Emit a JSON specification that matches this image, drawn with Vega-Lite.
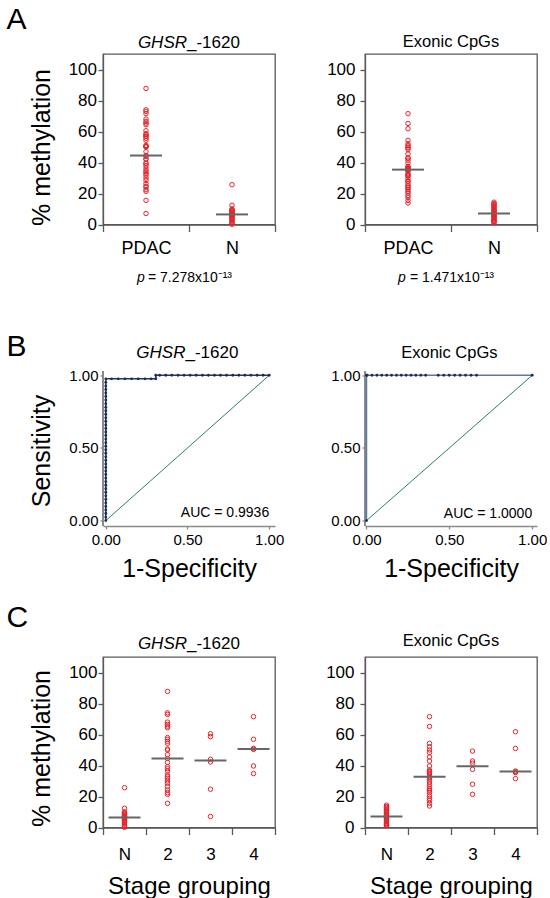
{
"$schema":"https://vega.github.io/schema/vega-lite/v6.json",
"autosize":{"type":"pad"},
"padding":{"left":5,"top":4,"right":0,"bottom":0},
"background":"white",
"columns":2,
"bounds":"flush",
"align":"all",
"spacing":{"row":130.5,"column":90},
"config":{
 "font":"Liberation Sans",
 "view":{"stroke":"#595959","strokeWidth":1.3},
 "axis":{"grid":false,"labelColor":"#000","titleColor":"#000","titleFontWeight":"normal","labelFont":"Liberation Sans","titleFont":"Liberation Sans","domainColor":"#595959","tickColor":"#595959","domainWidth":1.3,"tickWidth":1.3,"labelFlush":false,"labelOverlap":false},
 "title":{"fontWeight":"normal","color":"#000","fontSize":30,"anchor":"start","frame":"group","dx":-96.5,"font":"Liberation Sans"}
},
"datasets":{
 "meth":[
{"g":"G","s":"2","t":"PDAC","v":87.8},{"g":"G","s":"2","t":"PDAC","v":74},{"g":"G","s":"2","t":"PDAC","v":73},{"g":"G","s":"2","t":"PDAC","v":68},{"g":"G","s":"2","t":"PDAC","v":66.5},{"g":"G","s":"2","t":"PDAC","v":65.4},{"g":"G","s":"2","t":"PDAC","v":64.4},{"g":"G","s":"2","t":"PDAC","v":58},{"g":"G","s":"2","t":"PDAC","v":56.9},{"g":"G","s":"2","t":"PDAC","v":55.6},{"g":"G","s":"2","t":"PDAC","v":54.3},{"g":"G","s":"2","t":"PDAC","v":50.6},{"g":"G","s":"2","t":"PDAC","v":50},{"g":"G","s":"2","t":"PDAC","v":47},{"g":"G","s":"2","t":"PDAC","v":44.5},{"g":"G","s":"2","t":"PDAC","v":42},{"g":"G","s":"2","t":"PDAC","v":39.3},{"g":"G","s":"2","t":"PDAC","v":38},{"g":"G","s":"2","t":"PDAC","v":36.4},{"g":"G","s":"2","t":"PDAC","v":33.9},{"g":"G","s":"2","t":"PDAC","v":32.8},{"g":"G","s":"2","t":"PDAC","v":31.7},{"g":"G","s":"2","t":"PDAC","v":30},{"g":"G","s":"2","t":"PDAC","v":28.5},{"g":"G","s":"2","t":"PDAC","v":26.4},{"g":"G","s":"2","t":"PDAC","v":24.2},{"g":"G","s":"2","t":"PDAC","v":22.5},{"g":"G","s":"2","t":"PDAC","v":21.4},{"g":"G","s":"2","t":"PDAC","v":15.6},
{"g":"G","s":"3","t":"PDAC","v":60.5},{"g":"G","s":"3","t":"PDAC","v":58.6},{"g":"G","s":"3","t":"PDAC","v":44},{"g":"G","s":"3","t":"PDAC","v":42.3},{"g":"G","s":"3","t":"PDAC","v":24.7},{"g":"G","s":"3","t":"PDAC","v":7.1},
{"g":"G","s":"4","t":"PDAC","v":71.5},{"g":"G","s":"4","t":"PDAC","v":56.9},{"g":"G","s":"4","t":"PDAC","v":51},{"g":"G","s":"4","t":"PDAC","v":50.4},{"g":"G","s":"4","t":"PDAC","v":39.7},{"g":"G","s":"4","t":"PDAC","v":34.8},
{"g":"G","s":"N","t":"N","v":25.7},{"g":"G","s":"N","t":"N","v":12.4},{"g":"G","s":"N","t":"N","v":10},{"g":"G","s":"N","t":"N","v":9.6},{"g":"G","s":"N","t":"N","v":9},{"g":"G","s":"N","t":"N","v":8.5},{"g":"G","s":"N","t":"N","v":8},{"g":"G","s":"N","t":"N","v":7.6},{"g":"G","s":"N","t":"N","v":7.3},{"g":"G","s":"N","t":"N","v":7},{"g":"G","s":"N","t":"N","v":6.8},{"g":"G","s":"N","t":"N","v":6.5},{"g":"G","s":"N","t":"N","v":6},{"g":"G","s":"N","t":"N","v":5.5},{"g":"G","s":"N","t":"N","v":5},{"g":"G","s":"N","t":"N","v":4.7},{"g":"G","s":"N","t":"N","v":4},{"g":"G","s":"N","t":"N","v":3.4},{"g":"G","s":"N","t":"N","v":2.8},{"g":"G","s":"N","t":"N","v":2.1},{"g":"G","s":"N","t":"N","v":1.2},{"g":"G","s":"N","t":"N","v":0.5},{"g":"G","s":"N","t":"N","v":0.2},
{"g":"E","s":"2","t":"PDAC","v":71.5},{"g":"E","s":"2","t":"PDAC","v":65.2},{"g":"E","s":"2","t":"PDAC","v":54.3},{"g":"E","s":"2","t":"PDAC","v":52.1},{"g":"E","s":"2","t":"PDAC","v":50},{"g":"E","s":"2","t":"PDAC","v":48.3},{"g":"E","s":"2","t":"PDAC","v":45.5},{"g":"E","s":"2","t":"PDAC","v":42.9},{"g":"E","s":"2","t":"PDAC","v":39.7},{"g":"E","s":"2","t":"PDAC","v":37.1},{"g":"E","s":"2","t":"PDAC","v":36.2},{"g":"E","s":"2","t":"PDAC","v":35.8},{"g":"E","s":"2","t":"PDAC","v":35},{"g":"E","s":"2","t":"PDAC","v":34.5},{"g":"E","s":"2","t":"PDAC","v":32.8},{"g":"E","s":"2","t":"PDAC","v":32},{"g":"E","s":"2","t":"PDAC","v":31.1},{"g":"E","s":"2","t":"PDAC","v":29.4},{"g":"E","s":"2","t":"PDAC","v":27.9},{"g":"E","s":"2","t":"PDAC","v":26.4},{"g":"E","s":"2","t":"PDAC","v":25.1},{"g":"E","s":"2","t":"PDAC","v":24.2},{"g":"E","s":"2","t":"PDAC","v":23.6},{"g":"E","s":"2","t":"PDAC","v":22.5},{"g":"E","s":"2","t":"PDAC","v":20.3},{"g":"E","s":"2","t":"PDAC","v":18.7},{"g":"E","s":"2","t":"PDAC","v":17.5},{"g":"E","s":"2","t":"PDAC","v":15.6},{"g":"E","s":"2","t":"PDAC","v":13.9},
{"g":"E","s":"3","t":"PDAC","v":49.3},{"g":"E","s":"3","t":"PDAC","v":42.9},{"g":"E","s":"3","t":"PDAC","v":41.5},{"g":"E","s":"3","t":"PDAC","v":37.5},{"g":"E","s":"3","t":"PDAC","v":27.9},{"g":"E","s":"3","t":"PDAC","v":21.4},
{"g":"E","s":"4","t":"PDAC","v":61.8},{"g":"E","s":"4","t":"PDAC","v":51},{"g":"E","s":"4","t":"PDAC","v":36.4},{"g":"E","s":"4","t":"PDAC","v":36},{"g":"E","s":"4","t":"PDAC","v":35.4},{"g":"E","s":"4","t":"PDAC","v":31.5},
{"g":"E","s":"N","t":"N","v":14.4},{"g":"E","s":"N","t":"N","v":13.5},{"g":"E","s":"N","t":"N","v":13},{"g":"E","s":"N","t":"N","v":12.3},{"g":"E","s":"N","t":"N","v":11.5},{"g":"E","s":"N","t":"N","v":11},{"g":"E","s":"N","t":"N","v":10.2},{"g":"E","s":"N","t":"N","v":9.5},{"g":"E","s":"N","t":"N","v":9},{"g":"E","s":"N","t":"N","v":8.2},{"g":"E","s":"N","t":"N","v":7.6},{"g":"E","s":"N","t":"N","v":7.1},{"g":"E","s":"N","t":"N","v":6.5},{"g":"E","s":"N","t":"N","v":6},{"g":"E","s":"N","t":"N","v":5.4},{"g":"E","s":"N","t":"N","v":4.8},{"g":"E","s":"N","t":"N","v":4.2},{"g":"E","s":"N","t":"N","v":3.6},{"g":"E","s":"N","t":"N","v":3},{"g":"E","s":"N","t":"N","v":2.5},{"g":"E","s":"N","t":"N","v":2},{"g":"E","s":"N","t":"N","v":1.5},{"g":"E","s":"N","t":"N","v":1.2}
 ],
 "roc1":[
{"o":0,"f":0,"s":0},{"o":1,"f":0,"s":0.0244},{"o":2,"f":0,"s":0.0488},{"o":3,"f":0,"s":0.0732},{"o":4,"f":0,"s":0.0976},{"o":5,"f":0,"s":0.122},{"o":6,"f":0,"s":0.1463},{"o":7,"f":0,"s":0.1707},{"o":8,"f":0,"s":0.1951},{"o":9,"f":0,"s":0.2195},{"o":10,"f":0,"s":0.2439},{"o":11,"f":0,"s":0.2683},{"o":12,"f":0,"s":0.2927},{"o":13,"f":0,"s":0.3171},{"o":14,"f":0,"s":0.3415},{"o":15,"f":0,"s":0.3659},{"o":16,"f":0,"s":0.3902},{"o":17,"f":0,"s":0.4146},{"o":18,"f":0,"s":0.439},{"o":19,"f":0,"s":0.4634},{"o":20,"f":0,"s":0.4878},{"o":21,"f":0,"s":0.5122},{"o":22,"f":0,"s":0.5366},{"o":23,"f":0,"s":0.561},{"o":24,"f":0,"s":0.5854},{"o":25,"f":0,"s":0.6098},{"o":26,"f":0,"s":0.6341},{"o":27,"f":0,"s":0.6585},{"o":28,"f":0,"s":0.6829},{"o":29,"f":0,"s":0.7073},{"o":30,"f":0,"s":0.7317},{"o":31,"f":0,"s":0.7561},{"o":32,"f":0,"s":0.7805},{"o":33,"f":0,"s":0.8049},{"o":34,"f":0,"s":0.8293},{"o":35,"f":0,"s":0.8537},{"o":36,"f":0,"s":0.878},{"o":37,"f":0,"s":0.9024},{"o":38,"f":0,"s":0.9268},{"o":39,"f":0,"s":0.9512},{"o":40,"f":0,"s":0.9756},
{"o":41,"f":0.035,"s":0.9756},{"o":42,"f":0.076,"s":0.9756},{"o":43,"f":0.117,"s":0.9756},{"o":44,"f":0.158,"s":0.9756},{"o":45,"f":0.198,"s":0.9756},{"o":46,"f":0.24,"s":0.9756},{"o":47,"f":0.277,"s":0.9756},{"o":48,"f":0.306,"s":0.9756},{"o":49,"f":0.306,"s":1},
{"o":50,"f":0.33,"s":1},{"o":51,"f":0.367,"s":1},{"o":52,"f":0.404,"s":1},{"o":53,"f":0.442,"s":1},{"o":54,"f":0.479,"s":1},{"o":55,"f":0.516,"s":1},{"o":56,"f":0.553,"s":1},{"o":57,"f":0.591,"s":1},{"o":58,"f":0.628,"s":1},{"o":59,"f":0.665,"s":1},{"o":60,"f":0.702,"s":1},{"o":61,"f":0.739,"s":1},{"o":62,"f":0.777,"s":1},{"o":63,"f":0.814,"s":1},{"o":64,"f":0.851,"s":1},{"o":65,"f":0.888,"s":1},{"o":66,"f":0.926,"s":1},{"o":67,"f":0.963,"s":1},{"o":68,"f":1,"s":1}
 ],
 "roc2":[
{"o":0,"f":0,"s":0},{"o":1,"f":0,"s":1},{"o":2,"f":0.004,"s":1},{"o":3,"f":0.033,"s":1},{"o":4,"f":0.063,"s":1},{"o":5,"f":0.092,"s":1},{"o":6,"f":0.122,"s":1},{"o":7,"f":0.151,"s":1},{"o":8,"f":0.181,"s":1},{"o":9,"f":0.21,"s":1},{"o":10,"f":0.239,"s":1},{"o":11,"f":0.269,"s":1},{"o":12,"f":0.298,"s":1},{"o":13,"f":0.328,"s":1},{"o":14,"f":0.357,"s":1},{"o":15,"f":0.433,"s":1},{"o":16,"f":0.466,"s":1},{"o":17,"f":0.499,"s":1},{"o":18,"f":0.532,"s":1},{"o":19,"f":0.565,"s":1},{"o":20,"f":0.598,"s":1},{"o":21,"f":0.631,"s":1},{"o":22,"f":0.664,"s":1},{"o":23,"f":1,"s":1}
 ]
},
"concat":[
 {
  "width":172,"height":170.5,
  "title":{"text":"A","offset":-1.3},
  "layer":[
   {"data":{"name":"meth"},"transform":[{"filter":"datum.g==='G'"}],
    "mark":{"type":"point","shape":"circle","filled":false,"color":"#e3262e","size":20,"strokeWidth":1,"opacity":1},
    "encoding":{
     "x":{"field":"t","type":"nominal","scale":{"type":"band","domain":["PDAC","N"],"paddingInner":0,"paddingOuter":0},"axis":{"title":null,"labelAngle":0,"labelFontSize":18,"tickBand":"extent","tickSize":7,"labelPadding":7.5}},
     "y":{"field":"v","type":"quantitative","scale":{"domain":[0,110],"nice":false,"zero":false},"axis":{"title":"% methylation","values":[0,20,40,60,80,100],"tickCount":12,"labelOverlap":false,"labelFontSize":17,"titleFontSize":25,"tickSize":5,"labelPadding":1.5,"titlePadding":14,"titleY":93}}}},
   {"data":{"name":"meth"},"transform":[{"filter":"datum.g==='G'"}],
    "mark":{"type":"tick","color":"#666666","size":32,"thickness":2},
    "encoding":{"x":{"field":"t","type":"nominal"},"y":{"aggregate":"median","field":"v","type":"quantitative"}}},
   {"data":{"values":[{}]},"mark":{"type":"text","text":"GHSR","fontStyle":"italic","fontSize":17,"align":"right","baseline":"alphabetic","dx":-2,"dy":-6.5},"encoding":{"x":{"datum":"PDAC","bandPosition":1},"y":{"datum":110}}},
   {"data":{"values":[{}]},"mark":{"type":"text","text":"_-1620","fontSize":17,"align":"left","baseline":"alphabetic","dx":-2,"dy":-6.5},"encoding":{"x":{"datum":"PDAC","bandPosition":1},"y":{"datum":110}}},
   {"data":{"values":[{}]},"mark":{"type":"text","text":"p","fontStyle":"italic","fontSize":14,"align":"left","baseline":"alphabetic","dx":-52,"dy":57.6},"encoding":{"x":{"datum":"PDAC","bandPosition":1},"y":{"datum":0}}},
   {"data":{"values":[{}]},"mark":{"type":"text","text":"=  7.278x10⁻¹³","fontSize":14,"align":"left","baseline":"alphabetic","dx":-41,"dy":57.6},"encoding":{"x":{"datum":"PDAC","bandPosition":1},"y":{"datum":0}}}
  ]
 },
 {
  "width":172,"height":170.5,
  "layer":[
   {"data":{"name":"meth"},"transform":[{"filter":"datum.g==='E'"}],
    "mark":{"type":"point","shape":"circle","filled":false,"color":"#e3262e","size":20,"strokeWidth":1,"opacity":1},
    "encoding":{
     "x":{"field":"t","type":"nominal","scale":{"type":"band","domain":["PDAC","N"],"paddingInner":0,"paddingOuter":0},"axis":{"title":null,"labelAngle":0,"labelFontSize":18,"tickBand":"extent","tickSize":7,"labelPadding":7.5}},
     "y":{"field":"v","type":"quantitative","scale":{"domain":[0,110],"nice":false,"zero":false},"axis":{"title":null,"values":[0,20,40,60,80,100],"tickCount":12,"labelOverlap":false,"labelFontSize":17,"tickSize":5,"labelPadding":5}}}},
   {"data":{"name":"meth"},"transform":[{"filter":"datum.g==='E'"}],
    "mark":{"type":"tick","color":"#666666","size":32,"thickness":2},
    "encoding":{"x":{"field":"t","type":"nominal"},"y":{"aggregate":"median","field":"v","type":"quantitative"}}},
   {"data":{"values":[{}]},"mark":{"type":"text","text":"Exonic CpGs","fontSize":16.5,"align":"center","baseline":"alphabetic","dy":-7.5},"encoding":{"x":{"datum":"PDAC","bandPosition":1},"y":{"datum":110}}},
   {"data":{"values":[{}]},"mark":{"type":"text","text":"p","fontStyle":"italic","fontSize":14,"align":"left","baseline":"alphabetic","dx":-53,"dy":57},"encoding":{"x":{"datum":"PDAC","bandPosition":1},"y":{"datum":0}}},
   {"data":{"values":[{}]},"mark":{"type":"text","text":"=  1.471x10⁻¹³","fontSize":14,"align":"left","baseline":"alphabetic","dx":-41,"dy":57},"encoding":{"x":{"datum":"PDAC","bandPosition":1},"y":{"datum":0}}}
  ]
 },
 {
  "width":172,"height":170.5,"view":{"stroke":null},
  "title":{"text":"B","offset":-18},
  "layer":[
   {"data":{"values":[{}]},"mark":{"type":"rule","color":"#2e7b6f","strokeWidth":1},
    "encoding":{
     "x":{"datum":0,"type":"quantitative","scale":{"domain":[-0.0171,1.0355],"nice":false,"zero":false},"axis":{"title":"1-Specificity","values":[0,0.5,1],"format":".2f","labelFontSize":15,"titleFontSize":25,"tickSize":3,"labelPadding":3,"titlePadding":9,"domainColor":"#8a8a8a","domainWidth":1.5,"tickColor":"#8a8a8a"}},
     "y":{"datum":0,"type":"quantitative","scale":{"domain":[-0.037,1.136],"nice":false,"zero":false},"axis":{"title":"Sensitivity","values":[0,0.5,1],"format":".2f","labelOverlap":false,"labelFontSize":15,"titleFontSize":25,"tickSize":3,"labelPadding":2,"titlePadding":14,"titleY":95,"domain":false,"tickColor":"#8a8a8a"}},
     "x2":{"datum":1},"y2":{"datum":1}}},
   {"data":{"values":[{}]},"mark":{"type":"rule","color":"#8a8a8a","strokeWidth":2},"encoding":{"x":{"datum":-0.0171},"y":{"datum":-0.037},"y2":{"datum":1.03}}},
   {"data":{"name":"roc1"},"mark":{"type":"line","color":"#1f3864","strokeWidth":1.5},"encoding":{"x":{"field":"f","type":"quantitative"},"y":{"field":"s","type":"quantitative"},"order":{"field":"o","type":"quantitative"}}},
   {"data":{"name":"roc1"},"mark":{"type":"point","filled":true,"color":"#1b2d57","size":8,"opacity":1},"encoding":{"x":{"field":"f","type":"quantitative"},"y":{"field":"s","type":"quantitative"}}},
   {"data":{"values":[{}]},"mark":{"type":"text","text":"GHSR","fontStyle":"italic","fontSize":17,"align":"right","baseline":"alphabetic","dx":-2,"dy":-17},"encoding":{"x":{"datum":0.5},"y":{"datum":1}}},
   {"data":{"values":[{}]},"mark":{"type":"text","text":"_-1620","fontSize":17,"align":"left","baseline":"alphabetic","dx":-2,"dy":-17},"encoding":{"x":{"datum":0.5},"y":{"datum":1}}},
   {"data":{"values":[{}]},"mark":{"type":"text","text":"AUC = 0.9936","fontSize":14,"align":"right","baseline":"alphabetic","dy":-4},"encoding":{"x":{"datum":1},"y":{"datum":0}}}
  ]
 },
 {
  "width":172,"height":170.5,"view":{"stroke":null},
  "layer":[
   {"data":{"values":[{}]},"mark":{"type":"rule","color":"#2e7b6f","strokeWidth":1},
    "encoding":{
     "x":{"datum":0,"type":"quantitative","scale":{"domain":[-0.009,1.029],"nice":false,"zero":false},"axis":{"title":"1-Specificity","values":[0,0.5,1],"format":".2f","labelFontSize":15,"titleFontSize":25,"tickSize":3,"labelPadding":3,"titlePadding":9,"domainColor":"#8a8a8a","domainWidth":1.5,"tickColor":"#8a8a8a"}},
     "y":{"datum":0,"type":"quantitative","scale":{"domain":[-0.037,1.136],"nice":false,"zero":false},"axis":{"title":null,"values":[0,0.5,1],"format":".2f","labelOverlap":false,"labelFontSize":15,"tickSize":3,"labelPadding":2,"domain":false,"tickColor":"#8a8a8a"}},
     "x2":{"datum":1},"y2":{"datum":1}}},
   {"data":{"values":[{}]},"mark":{"type":"rule","color":"#8a8a8a","strokeWidth":2},"encoding":{"x":{"datum":-0.009},"y":{"datum":-0.037},"y2":{"datum":1.03}}},
   {"data":{"name":"roc2"},"mark":{"type":"line","color":"#5b7aa3","strokeWidth":1.5},"encoding":{"x":{"field":"f","type":"quantitative"},"y":{"field":"s","type":"quantitative"},"order":{"field":"o","type":"quantitative"}}},
   {"data":{"name":"roc2"},"mark":{"type":"point","filled":true,"color":"#1b2d57","size":8,"opacity":1},"encoding":{"x":{"field":"f","type":"quantitative"},"y":{"field":"s","type":"quantitative"}}},
   {"data":{"values":[{}]},"mark":{"type":"text","text":"Exonic CpGs","fontSize":16.5,"align":"center","baseline":"alphabetic","dy":-17.7},"encoding":{"x":{"datum":0.5},"y":{"datum":1}}},
   {"data":{"values":[{}]},"mark":{"type":"text","text":"AUC = 1.0000","fontSize":14,"align":"right","baseline":"alphabetic","dy":-3},"encoding":{"x":{"datum":1},"y":{"datum":0}}}
  ]
 },
 {
  "width":172,"height":170.5,
  "title":{"text":"C","offset":2},
  "layer":[
   {"data":{"name":"meth"},"transform":[{"filter":"datum.g==='G'"}],
    "mark":{"type":"point","shape":"circle","filled":false,"color":"#e3262e","size":20,"strokeWidth":1,"opacity":1},
    "encoding":{
     "x":{"field":"s","type":"nominal","scale":{"type":"band","domain":["N","2","3","4"],"paddingInner":0,"paddingOuter":0},"axis":{"title":"Stage grouping","labelAngle":0,"labelFontSize":17,"titleFontSize":24,"tickBand":"extent","tickSize":7,"labelPadding":12,"titlePadding":12}},
     "y":{"field":"v","type":"quantitative","scale":{"domain":[0,110],"nice":false,"zero":false},"axis":{"title":"% methylation","values":[0,20,40,60,80,100],"tickCount":12,"labelOverlap":false,"labelFontSize":17,"titleFontSize":25,"tickSize":5,"labelPadding":1,"titlePadding":14,"titleY":91}}}},
   {"data":{"name":"meth"},"transform":[{"filter":"datum.g==='G'"}],
    "mark":{"type":"tick","color":"#666666","size":32,"thickness":2},
    "encoding":{"x":{"field":"s","type":"nominal"},"y":{"aggregate":"median","field":"v","type":"quantitative"}}},
   {"data":{"values":[{}]},"mark":{"type":"text","text":"GHSR","fontStyle":"italic","fontSize":17,"align":"right","baseline":"alphabetic","dx":-2,"dy":-7.8},"encoding":{"x":{"datum":"2","bandPosition":1},"y":{"datum":110}}},
   {"data":{"values":[{}]},"mark":{"type":"text","text":"_-1620","fontSize":17,"align":"left","baseline":"alphabetic","dx":-2,"dy":-7.8},"encoding":{"x":{"datum":"2","bandPosition":1},"y":{"datum":110}}}
  ]
 },
 {
  "width":172,"height":170.5,
  "layer":[
   {"data":{"name":"meth"},"transform":[{"filter":"datum.g==='E'"}],
    "mark":{"type":"point","shape":"circle","filled":false,"color":"#e3262e","size":20,"strokeWidth":1,"opacity":1},
    "encoding":{
     "x":{"field":"s","type":"nominal","scale":{"type":"band","domain":["N","2","3","4"],"paddingInner":0,"paddingOuter":0},"axis":{"title":"Stage grouping","labelAngle":0,"labelFontSize":17,"titleFontSize":24,"tickBand":"extent","tickSize":7,"labelPadding":12,"titlePadding":12}},
     "y":{"field":"v","type":"quantitative","scale":{"domain":[0,110],"nice":false,"zero":false},"axis":{"title":null,"values":[0,20,40,60,80,100],"tickCount":12,"labelOverlap":false,"labelFontSize":17,"tickSize":5,"labelPadding":6}}}},
   {"data":{"name":"meth"},"transform":[{"filter":"datum.g==='E'"}],
    "mark":{"type":"tick","color":"#666666","size":32,"thickness":2},
    "encoding":{"x":{"field":"s","type":"nominal"},"y":{"aggregate":"median","field":"v","type":"quantitative"}}},
   {"data":{"values":[{}]},"mark":{"type":"text","text":"Exonic CpGs","fontSize":16.5,"align":"center","baseline":"alphabetic","dy":-11.5},"encoding":{"x":{"datum":"2","bandPosition":1},"y":{"datum":110}}}
  ]
 }
]
}
